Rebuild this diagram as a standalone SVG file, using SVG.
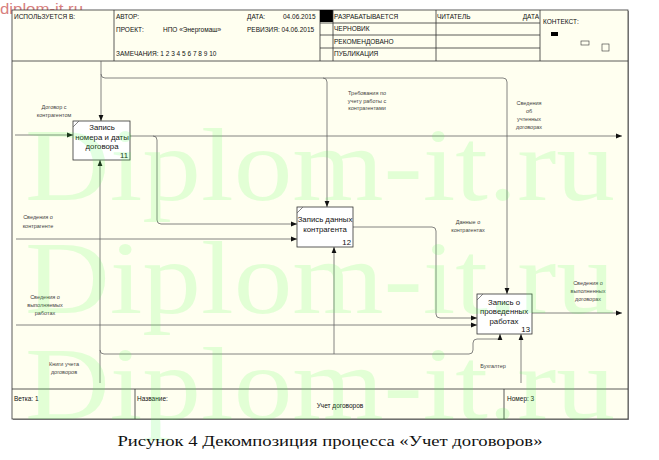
<svg xmlns="http://www.w3.org/2000/svg" width="659" height="460" viewBox="0 0 659 460">
<defs>
<marker id="ah" markerWidth="6" markerHeight="6" refX="6" refY="3" orient="auto" markerUnits="userSpaceOnUse"><path d="M0,0.6 L6,3 L0,5.4 Z" fill="#111"/></marker>
</defs>
<style>
.hd{font-family:"Liberation Sans",Arial,sans-serif;font-size:6.5px;fill:#111}
.lb{font-family:"Liberation Sans",Arial,sans-serif;font-size:5.5px;fill:#444;text-anchor:middle}
.bx{fill:#fff;stroke:#333;stroke-width:0.8}
.bt{font-family:"Liberation Sans",Arial,sans-serif;font-size:7.8px;fill:#111;text-anchor:middle}
.bn{font-family:"Liberation Sans",Arial,sans-serif;font-size:7.8px;fill:#111;text-anchor:end}
.ln{fill:none;stroke:#666;stroke-width:0.8}
.ar{fill:none;stroke:#666;stroke-width:0.8;marker-end:url(#ah)}
.fr{fill:none;stroke:#333;stroke-width:0.8}
.wm{font-family:"Liberation Serif","Times New Roman",serif;font-size:104px;fill:#55ff55;fill-opacity:0.17}
</style>
<rect width="659" height="460" fill="#fff"/>
<text x="0" y="14" font-family="Liberation Sans, Arial, sans-serif" font-size="14" fill="#d88080" textLength="83" lengthAdjust="spacingAndGlyphs">diplom-it.ru</text>
<g id="frame">
<rect x="13" y="11" width="616" height="409" fill="#999"/>
<rect x="12" y="10" width="616" height="409" fill="#fffff0" stroke="#333" stroke-width="0.8"/>
<line class="fr" x1="12" y1="61" x2="628" y2="61"/>
<line class="fr" x1="114" y1="10" x2="114" y2="61"/>
<line class="fr" x1="320" y1="10" x2="320" y2="61"/>
<rect x="320" y="10" width="13" height="12" fill="#000"/>
<line class="fr" x1="333" y1="10" x2="333" y2="61"/>
<line class="fr" x1="436" y1="10" x2="436" y2="61"/>
<line class="fr" x1="540" y1="10" x2="540" y2="61"/>
<line class="fr" x1="320" y1="23" x2="540" y2="23"/>
<line class="fr" x1="320" y1="35" x2="540" y2="35"/>
<line class="fr" x1="320" y1="48" x2="540" y2="48"/>
<line class="fr" x1="12" y1="389" x2="628" y2="389"/>
<line class="fr" x1="135" y1="389" x2="135" y2="419"/>
<line class="fr" x1="504" y1="389" x2="504" y2="419"/>
<text class="hd" x="14" y="19">ИСПОЛЬЗУЕТСЯ В:</text>
<text class="hd" x="116" y="19">АВТОР:</text>
<text class="hd" x="116" y="32">ПРОЕКТ:</text>
<text class="hd" x="163" y="32">НПО «Энергомаш»</text>
<text class="hd" x="247" y="19">ДАТА:</text>
<text class="hd" x="283" y="19">04.06.2015</text>
<text class="hd" x="247" y="32">РЕВИЗИЯ: 04.06.2015</text>
<text class="hd" x="116" y="56">ЗАМЕЧАНИЯ: 1 2 3 4 5 6 7 8 9 10</text>
<text class="hd" x="334" y="19">РАЗРАБАТЫВАЕТСЯ</text>
<text class="hd" x="334" y="31">ЧЕРНОВИК</text>
<text class="hd" x="334" y="44">РЕКОМЕНДОВАНО</text>
<text class="hd" x="334" y="56">ПУБЛИКАЦИЯ</text>
<text class="hd" x="437" y="19">ЧИТАТЕЛЬ</text>
<text class="hd" x="539" y="19" text-anchor="end">ДАТА</text>
<text class="hd" x="543" y="24" font-size="8.5">КОНТЕКСТ:</text>
<rect x="551" y="32" width="7" height="4" fill="#000"/>
<rect x="581" y="41" width="8" height="4" fill="none" stroke="#333" stroke-width="0.6"/>
<rect x="602" y="44" width="7" height="7" fill="none" stroke="#333" stroke-width="0.6"/>
<text class="hd" x="14" y="401">Ветка: 1</text>
<text class="hd" x="137" y="401">Название:</text>
<text class="hd" x="340" y="408" text-anchor="middle" font-size="7">Учет договоров</text>
<text class="hd" x="507" y="401">Номер: 3</text>
</g>
<g id="connectors">
<path class="ar" d="M15,135 L73,135"/>
<path class="ar" d="M101,61 L101,121"/>
<path class="ar" d="M101,74 Q101,78 105,78 L503,78 Q507,78 507,82 L507,294"/>
<path class="ar" d="M323,78 Q327,78 327,82 L327,207"/>
<path class="ar" d="M130,136 L622,136"/>
<path class="ar" d="M153,136 Q157,136 157,140 L157,220 Q157,224 161,224 L297,224"/>
<path class="ar" d="M16,239 L297,239"/>
<path class="ar" d="M100,383 L100,160"/>
<path class="ar" d="M100,350 Q100,354 104,354 L469,354 Q473,354 473,350 L473,343 Q473,339 477,339 L500,339 L500,334"/>
<path class="ar" d="M334,354 L334,247"/>
<path class="ar" d="M521,383 L521,334"/>
<path class="ar" d="M16,325 L477,325"/>
<path class="ar" d="M353,227 L432,227 Q436,227 436,231 L436,314 Q436,318 440,318 L477,318"/>
<path class="ar" d="M532,313 L622,313"/>
<text class="lb" x="54" y="109">Договор с</text>
<text class="lb" x="54" y="117">контрагентом</text>
<text class="lb" x="367" y="95">Требования по</text>
<text class="lb" x="367" y="103">учету работы с</text>
<text class="lb" x="367" y="110">контрагентами</text>
<text class="lb" x="529" y="105">Сведения</text>
<text class="lb" x="529" y="113">об</text>
<text class="lb" x="529" y="121">учтенных</text>
<text class="lb" x="529" y="129">договорах</text>
<text class="lb" x="38" y="219">Сведения о</text>
<text class="lb" x="38" y="228">контрагенте</text>
<text class="lb" x="468" y="224">Данные о</text>
<text class="lb" x="468" y="232">контрагентах</text>
<text class="lb" x="45" y="299">Сведения о</text>
<text class="lb" x="45" y="307">выполняемых</text>
<text class="lb" x="45" y="315">работах</text>
<text class="lb" x="588" y="285">Сведения о</text>
<text class="lb" x="588" y="293">выполненных</text>
<text class="lb" x="588" y="301">договорах</text>
<text class="lb" x="64" y="366">Книги учета</text>
<text class="lb" x="64" y="374">договоров</text>
<text class="lb" x="493" y="368">Бухгалтер</text>
</g>
<g id="node11">
<rect class="bx" x="73" y="121" width="57" height="39"/>
<line class="ln" x1="73" y1="127" x2="79" y2="121" stroke="#333"/>
<text class="bt" x="102" y="130">Запись</text>
<text class="bt" x="102" y="140">номера и даты</text>
<text class="bt" x="102" y="149">договора</text>
<text class="bn" x="128" y="158">11</text>
</g>
<g id="node12">
<rect class="bx" x="297" y="207" width="56" height="40"/>
<line class="ln" x1="297" y1="213" x2="303" y2="207" stroke="#333"/>
<text class="bt" x="325" y="222">Запись данных</text>
<text class="bt" x="325" y="232">контрагента</text>
<text class="bn" x="351" y="245">12</text>
</g>
<g id="node13">
<rect class="bx" x="477" y="294" width="55" height="40"/>
<line class="ln" x1="477" y1="300" x2="483" y2="294" stroke="#333"/>
<text class="bt" x="504" y="305">Запись о</text>
<text class="bt" x="504" y="314">проведенных</text>
<text class="bt" x="504" y="324">работах</text>
<text class="bn" x="530" y="332">13</text>
</g>
<g id="watermark">
<text class="wm" x="25" y="200" textLength="590" lengthAdjust="spacingAndGlyphs">Diplom-it.ru</text>
<text class="wm" x="25" y="313" textLength="590" lengthAdjust="spacingAndGlyphs">Diplom-it.ru</text>
<text class="wm" x="25" y="419" textLength="590" lengthAdjust="spacingAndGlyphs">Diplom-it.ru</text>
</g>
<text x="330" y="446" text-anchor="middle" font-family="Liberation Serif, Times New Roman, serif" font-size="15" fill="#111" textLength="425" lengthAdjust="spacingAndGlyphs">Рисунок 4 Декомпозиция процесса «Учет договоров»</text>
</svg>
